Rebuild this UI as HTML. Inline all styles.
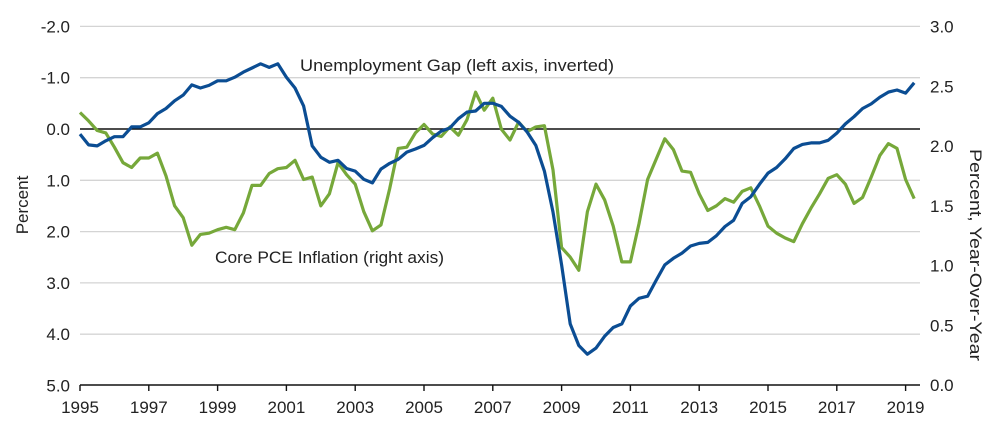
<!DOCTYPE html>
<html><head><meta charset="utf-8"><style>
body{margin:0;background:#fff}
svg{display:block;font-family:"Liberation Sans",sans-serif}
</style></head><body>
<svg id="chart" width="1000" height="440" viewBox="0 0 1000 440">
<g id="grid"></g>
<g id="axes"></g>
<g id="series"></g>
<text x="300" y="71" font-size="17" fill="#222" textLength="314" lengthAdjust="spacingAndGlyphs">Unemployment Gap (left axis, inverted)</text>
<text x="215" y="263" font-size="17" fill="#222" textLength="229" lengthAdjust="spacingAndGlyphs">Core PCE Inflation (right axis)</text>
<text transform="translate(28,205) rotate(-90)" text-anchor="middle" font-size="17" fill="#222">Percent</text>
<text transform="translate(970,255) rotate(90)" text-anchor="middle" font-size="17" fill="#222" textLength="212" lengthAdjust="spacingAndGlyphs">Percent, Year-Over-Year</text>
</svg>
<script>
const startYear = 1995;
const stepYears = 0.25;
const unempGap = [0.10,0.31,0.33,0.23,0.15,0.15,-0.04,-0.04,-0.12,-0.30,-0.40,-0.55,-0.66,-0.86,-0.80,-0.85,-0.94,-0.94,-1.01,-1.11,-1.19,-1.27,-1.20,-1.27,-1.01,-0.80,-0.45,0.33,0.55,0.65,0.61,0.77,0.82,0.98,1.05,0.78,0.67,0.59,0.45,0.39,0.32,0.17,0.04,-0.02,-0.20,-0.33,-0.35,-0.50,-0.50,-0.44,-0.25,-0.13,0.06,0.32,0.82,1.62,2.65,3.80,4.22,4.39,4.27,4.04,3.87,3.80,3.45,3.30,3.26,2.95,2.65,2.52,2.42,2.28,2.23,2.21,2.08,1.90,1.78,1.45,1.32,1.08,0.86,0.75,0.58,0.38,0.30,0.27,0.27,0.22,0.08,-0.10,-0.24,-0.40,-0.49,-0.62,-0.72,-0.76,-0.70,-0.90];
const corePce = [2.28,2.21,2.13,2.11,1.99,1.86,1.82,1.90,1.90,1.94,1.75,1.50,1.40,1.17,1.26,1.27,1.30,1.32,1.30,1.44,1.67,1.67,1.77,1.81,1.82,1.88,1.72,1.74,1.50,1.60,1.86,1.76,1.68,1.45,1.29,1.34,1.64,1.98,1.99,2.11,2.18,2.10,2.08,2.16,2.09,2.22,2.45,2.30,2.40,2.14,2.05,2.20,2.12,2.16,2.17,1.80,1.15,1.07,0.96,1.45,1.68,1.55,1.33,1.03,1.03,1.35,1.72,1.89,2.06,1.97,1.79,1.78,1.60,1.46,1.50,1.56,1.53,1.62,1.65,1.50,1.33,1.27,1.23,1.20,1.35,1.48,1.60,1.73,1.76,1.68,1.52,1.57,1.74,1.92,2.02,1.98,1.72,1.56];
const xTickYears = [1995,1997,1999,2001,2003,2005,2007,2009,2011,2013,2015,2017,2019];
const leftTicks = [-2,-1,0,1,2,3,4,5];
const rightTicks = [0,0.5,1,1.5,2,2.5,3];

const NS="http://www.w3.org/2000/svg";
const X0=80, PXY=34.4;
const xs = y => X0 + (y-startYear)*PXY;
const yl = v => 129 + v*51.3;
const yr = r => 385 - r*119.5;
function mk(tag, attrs, parent){const e=document.createElementNS(NS,tag);for(const k in attrs)e.setAttribute(k,attrs[k]);parent.appendChild(e);return e;}
const grid=document.getElementById('grid'), axes=document.getElementById('axes'), series=document.getElementById('series');
leftTicks.forEach(v=>{
  if(v!==0 && v!==5){
    const g=mk('line',{x1:80,x2:920,y1:yl(v),y2:yl(v),stroke:'#d4d4d4','stroke-width':1.3},grid);
    
    
  }
  const t=mk('text',{x:70,y:yl(v)+6,'text-anchor':'end','font-size':17,fill:'#222'},axes);
  t.textContent=v.toFixed(1);
  
  
});
rightTicks.forEach(r=>{
  const t=mk('text',{x:930,y:yr(r)+6,'font-size':17,fill:'#222'},axes);
  t.textContent=r.toFixed(1);
  
  
});
const zl=mk('line',{x1:80,x2:920,y1:yl(0),y2:yl(0),stroke:'#111','stroke-width':1.6},axes);


const xa=mk('line',{x1:80,x2:920,y1:385,y2:385,stroke:'#111','stroke-width':1.6},axes);


xTickYears.forEach(y=>{
  const tk=mk('line',{x1:xs(y),x2:xs(y),y1:385,y2:391,stroke:'#111','stroke-width':1.4},axes);
  
  
  const t=mk('text',{x:xs(y),y:413,'text-anchor':'middle','font-size':17,fill:'#222'},axes);
  t.textContent=y;
  
  
});
function path(vals, yf){return vals.map((v,i)=>(i?'L':'M')+xs(startYear+i*stepYears).toFixed(1)+','+yf(v).toFixed(1)).join('');}
const gp=mk('path',{d:path(corePce,yr),fill:'none',stroke:'#76a83a','stroke-width':3.2,'stroke-linejoin':'round'},series);


const bp=mk('path',{d:path(unempGap,yl),fill:'none',stroke:'#0b4d93','stroke-width':3.2,'stroke-linejoin':'round'},series);


</script>
</body></html>
